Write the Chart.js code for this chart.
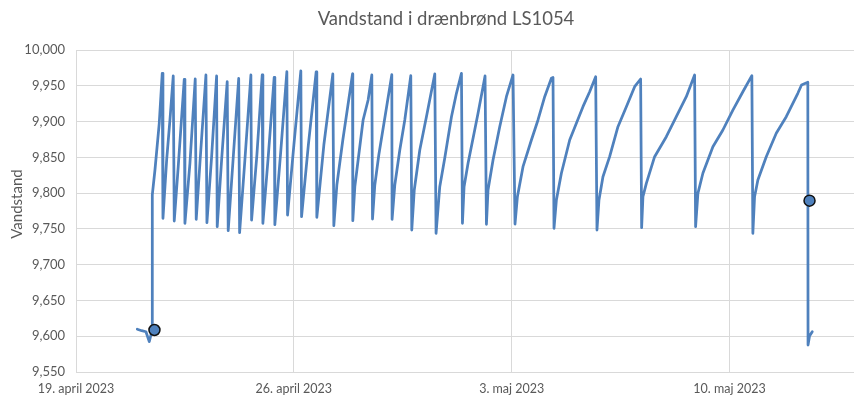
<!DOCTYPE html>
<html>
<head>
<meta charset="utf-8">
<script src="https://cdn.jsdelivr.net/npm/chart.js@4/dist/chart.umd.min.js"></script>
<style>
  html, body { margin: 0; padding: 0; background: #ffffff; }
  #wrap { width: 854px; height: 397px; position: relative; }
</style>
</head>
<body>
<div id="wrap"><canvas id="chart" width="854" height="397"></canvas></div>
<script>
// Logger readings: days after 19 April 2023 00:00, water level
const days = [
  1.969, 2.110, 2.248, 2.354, 2.408, 2.450, 2.452, 2.537, 2.675, 2.771,
  2.794, 2.913, 3.019, 3.125, 3.157, 3.285, 3.478, 3.500, 3.661, 3.831,
  3.863, 3.982, 4.175, 4.207, 4.358, 4.518, 4.538, 4.679, 4.859, 4.891,
  5.058, 5.228, 5.257, 5.427, 5.620, 5.642, 5.813, 5.983, 6.005, 6.182,
  6.368, 6.390, 6.583, 6.776, 6.798, 7.001, 7.225, 7.248, 7.466, 7.717,
  7.739, 7.964, 8.253, 8.285, 8.382, 8.574, 8.886, 8.895, 8.960, 9.066,
  9.226, 9.387, 9.506, 9.528, 9.602, 9.730, 9.923, 10.148, 10.157, 10.244,
  10.405, 10.565, 10.758, 10.790, 10.870, 11.047, 11.272, 11.529, 11.570, 11.689,
  11.850, 12.065, 12.225, 12.386, 12.418, 12.470, 12.598, 12.791, 12.919, 13.080,
  13.144, 13.189, 13.240, 13.401, 13.616, 13.831, 14.043, 14.107, 14.184, 14.364,
  14.634, 14.846, 15.061, 15.276, 15.328, 15.360, 15.437, 15.597, 15.864, 16.079,
  16.291, 16.506, 16.699, 16.741, 16.805, 16.933, 17.148, 17.415, 17.685, 17.951,
  18.144, 18.176, 18.218, 18.327, 18.593, 18.969, 19.290, 19.611, 19.878, 19.910,
  19.984, 20.144, 20.466, 20.787, 21.108, 21.429, 21.718, 21.750, 21.805, 21.911,
  22.181, 22.502, 22.823, 23.195, 23.314, 23.516, 23.523, 23.571, 23.658
];
const levels = [
  9609.7, 9607.7, 9606.3, 9592.4, 9601.7, 9608.7, 9797.4, 9832.3, 9897.6, 9967.4,
  9764.8, 9846.3, 9902.2, 9963.7, 9761.0, 9836.9, 9959.1, 9757.8, 9841.7, 9959.5,
  9763.4, 9841.7, 9965.1, 9758.7, 9850.9, 9963.7, 9753.1, 9846.3, 9955.7, 9747.5,
  9853.3, 9960.2, 9744.7, 9846.3, 9965.1, 9762.4, 9853.3, 9965.1, 9757.8, 9853.3,
  9961.8, 9755.9, 9860.2, 9969.7, 9769.4, 9867.2, 9970.7, 9767.0, 9867.2, 9969.3,
  9766.2, 9867.2, 9966.5, 9754.5, 9811.3, 9874.2, 9966.5, 9761.4, 9809.0, 9846.3,
  9902.2, 9930.1, 9965.1, 9763.8, 9811.3, 9853.3, 9905.0, 9965.5, 9763.4, 9811.3,
  9860.2, 9902.2, 9964.1, 9748.4, 9804.3, 9860.2, 9909.2, 9966.5, 9743.8, 9809.0,
  9849.1, 9906.8, 9939.5, 9967.4, 9757.8, 9809.0, 9841.7, 9883.6, 9911.5, 9948.7,
  9963.7, 9756.4, 9804.3, 9846.3, 9892.8, 9934.7, 9965.1, 9756.8, 9795.0, 9836.9,
  9874.2, 9902.2, 9934.7, 9960.5, 9961.6, 9750.8, 9790.4, 9827.7, 9874.2, 9897.6,
  9920.8, 9941.7, 9962.7, 9748.4, 9790.4, 9822.9, 9850.9, 9892.8, 9920.8, 9948.7,
  9959.5, 9751.7, 9795.0, 9813.7, 9850.9, 9878.8, 9906.8, 9934.7, 9965.1, 9753.1,
  9799.7, 9827.7, 9864.9, 9888.2, 9916.1, 9941.7, 9964.1, 9743.8, 9795.0, 9818.3,
  9850.9, 9883.6, 9906.8, 9939.5, 9951.1, 9954.9, 9587.7, 9600.3, 9606.3
];

// Manual control readings
const markerDays = [2.521, 23.571];
const markerLevels = [9608.7, 9789.4];

// Date axis labels (every 7 days from 19 April)
const tickDays = [0, 7, 14, 21];
const tickLabels = ['19. april 2023', '26. april 2023', '3. maj 2023', '10. maj 2023'];

const chartTitle = 'Vandstand i drænbrønd LS1054';
const yAxisTitle = 'Vandstand';

const FONT = 'Lato, "Open Sans", sans-serif';
const TEXT = '#595959';
const GRID = '#d9d9d9';
const BLUE = '#4f81bd';

const series = days.map((d, i) => ({ x: d, y: levels[i] }));
const markers = markerDays.map((d, i) => ({ x: d, y: markerLevels[i] }));

const textPlugin = {
  id: 'texts',
  afterDraw(chart) {
    const ctx = chart.ctx;
    ctx.save();
    ctx.fillStyle = TEXT;
    ctx.font = '18.5px ' + FONT;
    ctx.textAlign = 'center';
    ctx.textBaseline = 'middle';
    ctx.fillText(chartTitle, 446, 19);
    ctx.font = '15px ' + FONT;
    ctx.translate(17, 204);
    ctx.rotate(-Math.PI / 2);
    ctx.fillText(yAxisTitle, 0, 0);
    ctx.restore();
  }
};

new Chart(document.getElementById('chart'), {
  type: 'line',
  data: {
    datasets: [
      {
        data: series,
        borderColor: BLUE,
        borderWidth: 2.75,
        pointRadius: 0,
        tension: 0,
        borderJoinStyle: 'round',
        borderCapStyle: 'round',
        order: 2
      },
      {
        type: 'scatter',
        data: markers,
        showLine: false,
        pointRadius: 5.5,
        pointBackgroundColor: BLUE,
        pointBorderColor: '#111111',
        pointBorderWidth: 1.5,
        order: 1
      }
    ]
  },
  options: {
    responsive: false,
    animation: false,
    parsing: false,
    layout: { autoPadding: false, padding: { top: 50, right: 0, left: 0, bottom: 0 } },
    plugins: {
      legend: { display: false },
      title: { display: false },
      tooltip: { enabled: false }
    },
    scales: {
      x: {
        type: 'linear',
        min: 0,
        max: 25,
        afterFit(scale) {
          scale.height = 25;
          scale.paddingLeft = 0;
          scale.paddingRight = 0;
        },
        afterBuildTicks(scale) {
          scale.ticks = tickDays.map(v => ({ value: v }));
        },
        grid: { color: GRID, lineWidth: 1, drawTicks: false },
        border: { display: false },
        ticks: {
          padding: 9,
          color: TEXT,
          font: { family: FONT, size: 12.5 },
          maxRotation: 0,
          autoSkip: false,
          callback(value) {
            const i = tickDays.indexOf(value);
            return i >= 0 ? tickLabels[i] : '';
          }
        }
      },
      y: {
        min: 9550,
        max: 10000,
        afterFit(scale) {
          scale.width = 76;
          scale.paddingTop = 0;
          scale.paddingBottom = 0;
        },
        grid: { color: GRID, lineWidth: 1, drawTicks: false },
        border: { display: false },
        ticks: {
          stepSize: 50,
          padding: 11,
          color: TEXT,
          font: { family: FONT, size: 13 },
          callback(value) { return value.toLocaleString('en-US'); }
        }
      }
    }
  },
  plugins: [textPlugin]
});
</script>
</body>
</html>
